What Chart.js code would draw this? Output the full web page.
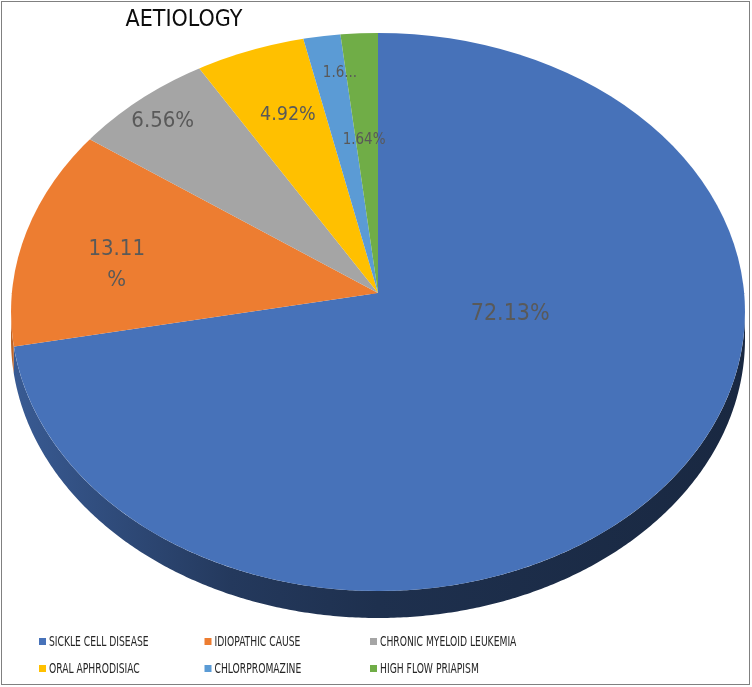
<!DOCTYPE html>
<html>
<head>
<meta charset="utf-8">
<script src="https://cdn.jsdelivr.net/npm/chart.js@4.4.1/dist/chart.umd.min.js"></script>
<style>
  html, body { margin: 0; padding: 0; background: #fff; }
  canvas { display: block; }
</style>
</head>
<body>
<canvas id="pie" width="752" height="687"></canvas>
<script>
var chartTitle = 'AETIOLOGY';
var causes = ['SICKLE CELL DISEASE', 'IDIOPATHIC CAUSE', 'CHRONIC MYELOID LEUKEMIA', 'ORAL APHRODISIAC', 'CHLORPROMAZINE', 'HIGH FLOW PRIAPISM'];
var patients = [44, 8, 4, 3, 1, 1];
var sliceColors = ['#4772B9', '#ED7D31', '#A5A5A5', '#FFC000', '#5B9BD5', '#70AD47'];

var FONT = '"DejaVu Sans Condensed", "Liberation Sans", sans-serif';

// excel style tilted pie: apex (cx,cy) sits above the middle of the outline ellipse (ex,ey)
var pie3d = { cx: 378, cy: 293, rx: 367, ryTop: 261, ryBot: 296, ex: 378, ey: 312, erx: 367, ery: 279, depth: 27 };

// where excel dropped the data labels: [angle from top (deg), share of radius, font px]
var labelSpots = [[101, 0.367, 23], [278.6, 0.72, 22], [318.2, 0.88, 22], [340.2, 0.725, 19.5], [353, 0.85, 15], [356.3, 0.587, 15]];

var total = patients.reduce(function (a, b) { return a + b; }, 0);

function pctText(i) {
  return (patients[i] / total * 100).toFixed(2) + '%';
}

// excel wrapped one label and cut another short
function labelLines(i) {
  var t = pctText(i);
  if (i === 1) return [t.slice(0, -1), '%'];
  if (i === 4) return [t.slice(0, 3) + '...'];
  return [t];
}

function shade(hex, f) {
  var n = parseInt(hex.slice(1), 16);
  var r = Math.round(((n >> 16) & 255) * f), g = Math.round(((n >> 8) & 255) * f), b = Math.round((n & 255) * f);
  return 'rgb(' + r + ',' + g + ',' + b + ')';
}

function rimPoint(theta, r) {
  var c = Math.cos(theta);
  var ry = c >= 0 ? pie3d.ryTop : pie3d.ryBot;
  return [pie3d.cx + pie3d.rx * r * Math.sin(theta), pie3d.cy - ry * r * c];
}

// which slice a point on the outline belongs to
function sliceAt(meta, x, y) {
  var dy = y - pie3d.cy;
  var u = (x - pie3d.cx) / pie3d.rx, v = dy / (dy <= 0 ? pie3d.ryTop : pie3d.ryBot);
  var t = Math.atan2(u, -v);
  if (t < 0) t += 2 * Math.PI;
  for (var i = 0; i < meta.data.length; i++) {
    if (t >= meta.data[i].startAngle + Math.PI / 2 && t < meta.data[i].endAngle + Math.PI / 2) return i;
  }
  return meta.data.length - 1;
}

var pie3dPlugin = {
  id: 'pie3d',
  beforeDatasetsDraw: function (chart) {
    var ctx = chart.ctx;
    var meta = chart.getDatasetMeta(0);
    var R = meta.data[0].outerRadius, ox = meta.data[0].x, oy = meta.data[0].y;

    // the wall along the front of the outline
    var steps = 360, runs = [], k, phi, x, y, idx;
    for (k = 0; k <= steps; k++) {
      phi = Math.PI / 2 + Math.PI * k / steps;
      x = pie3d.ex + pie3d.erx * Math.sin(phi);
      y = pie3d.ey - pie3d.ery * Math.cos(phi);
      idx = sliceAt(meta, x, y);
      if (!runs.length || runs[runs.length - 1].i !== idx) {
        if (runs.length) runs[runs.length - 1].pts.push([x, y]);
        runs.push({ i: idx, pts: [] });
      }
      runs[runs.length - 1].pts.push([x, y]);
    }
    runs.forEach(function (run) {
      var pts = run.pts;
      ctx.beginPath();
      pts.forEach(function (p, j) { if (j === 0) ctx.moveTo(p[0], p[1]); else ctx.lineTo(p[0], p[1]); });
      for (var j = pts.length - 1; j >= 0; j--) ctx.lineTo(pts[j][0], pts[j][1] + pie3d.depth);
      ctx.closePath();
      var c = sliceColors[run.i];
      var grad = ctx.createLinearGradient(pie3d.ex - pie3d.erx, 0, pie3d.ex + pie3d.erx, 0);
      grad.addColorStop(0, shade(c, 0.8));
      grad.addColorStop(0.3, shade(c, 0.5));
      grad.addColorStop(0.5, shade(c, 0.42));
      grad.addColorStop(1, shade(c, 0.35));
      ctx.fillStyle = grad;
      ctx.fill();
    });

    // top face: slices from the apex, cut to the outline ellipse
    var grow = 1.3;
    var halves = [[0, pie3d.cy + 1, pie3d.ryTop], [pie3d.cy, chart.height, pie3d.ryBot]];
    halves.forEach(function (h) {
      ctx.save();
      ctx.beginPath();
      ctx.rect(0, h[0], chart.width, h[1] - h[0]);
      ctx.clip();
      ctx.beginPath();
      ctx.ellipse(pie3d.ex, pie3d.ey, pie3d.erx, pie3d.ery, 0, 0, 2 * Math.PI);
      ctx.clip();
      ctx.translate(pie3d.cx, pie3d.cy);
      ctx.scale(pie3d.rx * grow / R, h[2] * grow / R);
      ctx.translate(-ox, -oy);
      meta.controller.draw();
      ctx.restore();
    });
    return false;
  },
  afterDraw: function (chart) {
    var ctx = chart.ctx;
    ctx.save();

    // data labels
    ctx.fillStyle = '#595959';
    ctx.textAlign = 'center';
    ctx.textBaseline = 'middle';
    labelSpots.forEach(function (s, i) {
      var p = rimPoint(s[0] * Math.PI / 180, s[1]);
      var lines = labelLines(i);
      var gap = 31 * s[2] / 22;
      ctx.font = s[2] + 'px ' + FONT;
      lines.forEach(function (line, j) {
        ctx.fillText(line, p[0], p[1] + (j - (lines.length - 1) / 2) * gap);
      });
    });

    // title
    ctx.fillStyle = '#0d0d0d';
    ctx.font = '23px ' + FONT;
    ctx.textBaseline = 'alphabetic';
    ctx.fillText(chartTitle, 184, 26);

    // legend, three columns
    var cols = [39, 204.5, 370], rows = [642, 669];
    ctx.textAlign = 'left';
    ctx.textBaseline = 'middle';
    causes.forEach(function (name, i) {
      var x = cols[i % 3], y = rows[Math.floor(i / 3)];
      ctx.fillStyle = sliceColors[i];
      ctx.fillRect(x, y - 4, 7, 7);
      ctx.save();
      ctx.translate(x + 10, y);
      ctx.scale(0.73, 1);
      ctx.fillStyle = '#262626';
      ctx.font = '14px ' + FONT;
      ctx.fillText(name, 0, 0);
      ctx.restore();
    });

    // frame
    ctx.strokeStyle = '#808080';
    ctx.lineWidth = 1;
    ctx.strokeRect(1.5, 1.5, 748, 683);
    ctx.restore();
  }
};

var ctx = document.getElementById('pie').getContext('2d');
var pie = new Chart(ctx, {
  type: 'pie',
  data: {
    labels: causes,
    datasets: [{
      data: patients,
      backgroundColor: sliceColors,
      borderWidth: 0
    }]
  },
  options: {
    responsive: false,
    animation: false,
    events: [],
    layout: {
      padding: { left: 11, right: 7, top: 32, bottom: 133 }
    },
    plugins: {
      legend: { display: false },
      tooltip: { enabled: false }
    }
  },
  plugins: [pie3dPlugin]
});
</script>
</body>
</html>
